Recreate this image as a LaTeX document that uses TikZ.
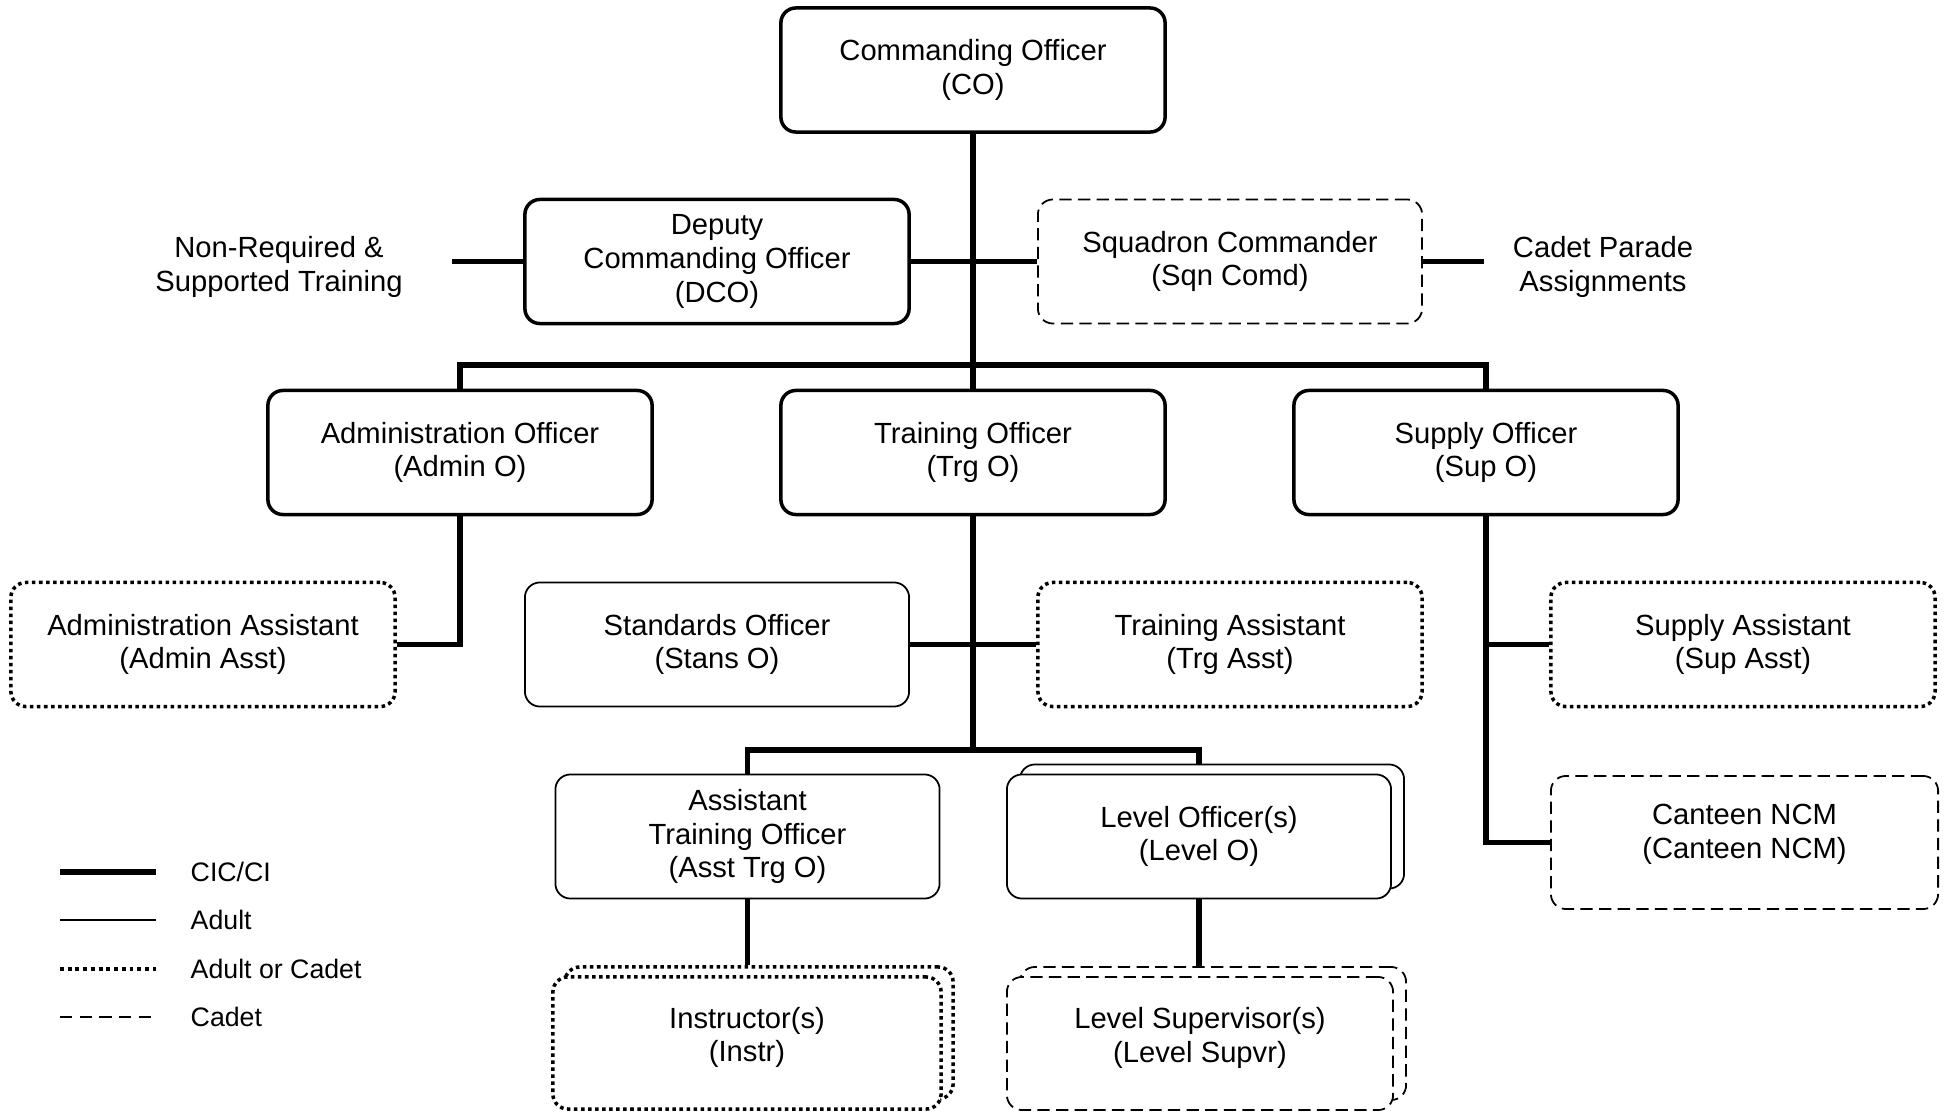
\documentclass[tikz,border=0pt]{standalone}
\usepackage{fontspec}
\setmainfont{Liberation Sans}
\usetikzlibrary{backgrounds}
\begin{document}
\begin{tikzpicture}[x=0.01cm,y=-0.01cm,
 every node/.style={font=\fontsize{8.3}{9.6}\selectfont},
 base/.style={rounded corners=0.15cm, minimum width=3.84cm, minimum height=1.24cm, align=center, inner sep=0pt, fill=white},
 cic/.style={base, draw, line width=1pt},
 adult/.style={base, draw, line width=0.5pt},
 aoc/.style={base, draw, line width=1pt, dash pattern=on 1pt off 1pt},
 cadet/.style={base, draw, line width=0.5pt, dash pattern=on 3.5pt off 1.8pt},
 conn/.style={line width=1.55pt},
 lbl/.style={align=center, inner sep=0pt},
 lgtxt/.style={anchor=west, inner sep=0pt, font=\fontsize{7.6}{9}\selectfont},
 lgthick/.style={line width=1.55pt},
 lgadult/.style={line width=0.5pt},
 lgaoc/.style={line width=1pt, dash pattern=on 1.1pt off 1.1pt},
 lgcadet/.style={line width=0.5pt, dash pattern=on 3.5pt off 2.1pt},
]
\useasboundingbox (0,0) rectangle (1947,1112);

% top
\node[cic] (co) at (973,70) {Commanding Officer\\(CO)};
\node[cic] (dco) at (717,261.5) {Deputy\\Commanding Officer\\(DCO)};
\node[cadet] (sqn) at (1230,261.5) {Squadron Commander\\(Sqn Comd)};
\node[lbl] (nrst) at (279,267) {Non-Required \&\\Supported Training};
\node[lbl] (cpa) at (1603,267) {Cadet Parade\\Assignments};
\coordinate (nrend) at (452,261.5);
\coordinate (cpend) at (1484,261.5);

% row 3
\node[cic] (adm) at (460,452.5) {Administration Officer\\(Admin O)};
\node[cic] (trg) at (973,452.5) {Training Officer\\(Trg O)};
\node[cic] (sup) at (1486,452.5) {Supply Officer\\(Sup O)};

% row 4
\node[aoc] (aasst) at (203,644.5) {Administration Assistant\\(Admin Asst)};
\node[adult] (stans) at (717,644.5) {Standards Officer\\(Stans O)};
\node[aoc] (tasst) at (1230,644.5) {Training Assistant\\(Trg Asst)};
\node[aoc] (sasst) at (1743,644.5) {Supply Assistant\\(Sup Asst)};
\node[cadet, minimum height=1.33cm, minimum width=3.87cm] (cant) at (1744.5,842.5) {};
\node[lbl] (cantt) at ([yshift=2.3pt]cant.center) {Canteen NCM\\(Canteen NCM)};

% row 5
\node[adult] (atrg) at (747.5,836.5) {Assistant\\Training Officer\\(Asst Trg O)};
\node[adult] (lvlb) at (1212,826.5) {};
\node[adult] (lvl) at (1199,836.5) {Level Officer(s)\\(Level O)};

% row 6
\node[aoc, minimum height=1.32cm, minimum width=3.88cm] (insb) at (759,1033) {};
\node[aoc, minimum height=1.32cm, minimum width=3.88cm] (ins) at (747,1043) {};
\node[lbl] (inst) at ([yshift=1.6pt]ins.center) {Instructor(s)\\(Instr)};
\node[cadet, minimum height=1.33cm, minimum width=3.86cm] (lsb) at (1213,1033.5) {};
\node[cadet, minimum height=1.33cm, minimum width=3.86cm] (ls) at (1200,1043.5) {};
\node[lbl] (lst) at ([yshift=1.6pt]ls.center) {Level Supervisor(s)\\(Level Supvr)};

% legend
\coordinate (la1) at (60,872);  \coordinate (lb1) at (156,872);
\coordinate (la2) at (60,920);  \coordinate (lb2) at (156,920);
\coordinate (la3) at (60,969);  \coordinate (lb3) at (156,969);
\coordinate (la4) at (60,1017); \coordinate (lb4) at (156,1017);
\draw[lgthick] (la1) -- (lb1);
\draw[lgadult] (la2) -- (lb2);
\draw[lgaoc] (la3) -- (lb3);
\draw[lgcadet] (la4) -- (lb4);
\node[lgtxt] (t1) at (190,872) {CIC/CI};
\node[lgtxt] (t2) at (190,920) {Adult};
\node[lgtxt] (t3) at (190,969) {Adult or Cadet};
\node[lgtxt] (t4) at (190,1017) {Cadet};

\begin{pgfonlayer}{background}
\coordinate (bus1) at (973,365);
\coordinate (bus2) at (973,750);
\draw[conn] (co.south) -- (trg.north);
\draw[conn] (dco.east) -- (sqn.west);
\draw[conn] (nrend) -- (dco.west);
\draw[conn] (sqn.east) -- (cpend);
\draw[conn] (adm.north) |- (bus1) -| (sup.north);
\draw[conn] (adm.south) |- (aasst.east);
\draw[conn] (trg.south) -- (bus2);
\draw[conn] (stans.east) -- (tasst.west);
\draw[conn] (atrg.north) |- (bus2) -| (lvl.north);
\draw[conn] (sup.south) |- (cant.west);
\draw[conn] (sup.south |- sasst.west) -- (sasst.west);
\draw[conn] (atrg.south) -- (atrg.south |- insb.north);
\draw[conn] (lvl.south) -- (lvl.south |- lsb.north);
\end{pgfonlayer}
\end{tikzpicture}
\end{document}
